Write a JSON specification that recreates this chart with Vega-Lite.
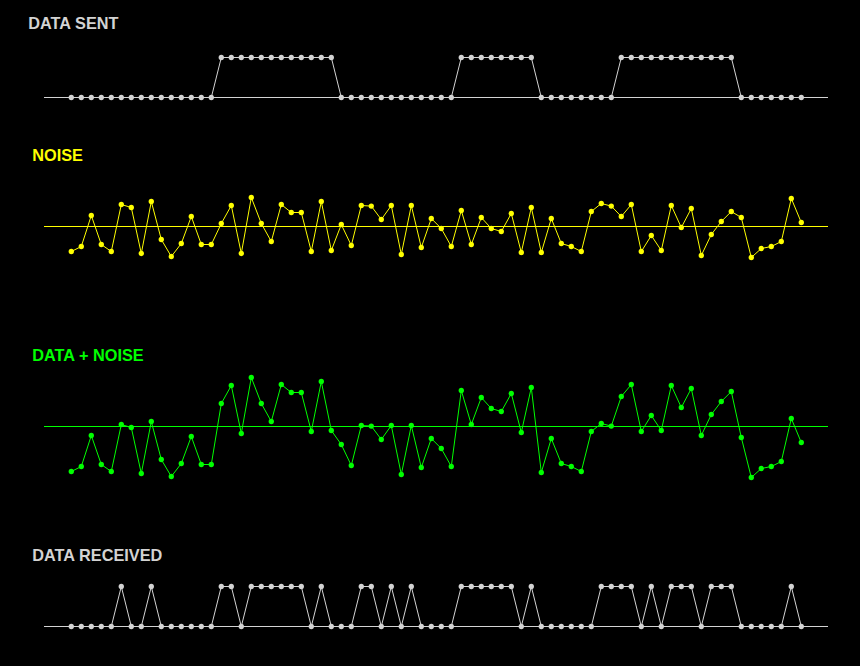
{
  "$schema": "https://vega.github.io/schema/vega-lite/v6.json",
  "width": 784,
  "height": 666,
  "autosize": "none",
  "padding": {"left": 44, "right": 32, "top": 0, "bottom": 0},
  "background": "black",
  "config": {"view": {"stroke": null}},
  "data": {"values": [
    {"i":0,"sent":0,"noise":-1.25,"dn":-2.25,"rec":0},
    {"i":1,"sent":0,"noise":-1.0,"dn":-2.0,"rec":0},
    {"i":2,"sent":0,"noise":0.55,"dn":-0.45,"rec":0},
    {"i":3,"sent":0,"noise":-0.9,"dn":-1.9,"rec":0},
    {"i":4,"sent":0,"noise":-1.25,"dn":-2.25,"rec":0},
    {"i":5,"sent":0,"noise":1.1,"dn":0.1,"rec":1},
    {"i":6,"sent":0,"noise":0.95,"dn":-0.05,"rec":0},
    {"i":7,"sent":0,"noise":-1.35,"dn":-2.35,"rec":0},
    {"i":8,"sent":0,"noise":1.25,"dn":0.25,"rec":1},
    {"i":9,"sent":0,"noise":-0.65,"dn":-1.65,"rec":0},
    {"i":10,"sent":0,"noise":-1.5,"dn":-2.5,"rec":0},
    {"i":11,"sent":0,"noise":-0.85,"dn":-1.85,"rec":0},
    {"i":12,"sent":0,"noise":0.5,"dn":-0.5,"rec":0},
    {"i":13,"sent":0,"noise":-0.9,"dn":-1.9,"rec":0},
    {"i":14,"sent":0,"noise":-0.9,"dn":-1.9,"rec":0},
    {"i":15,"sent":1,"noise":0.15,"dn":1.15,"rec":1},
    {"i":16,"sent":1,"noise":1.05,"dn":2.05,"rec":1},
    {"i":17,"sent":1,"noise":-1.35,"dn":-0.35,"rec":0},
    {"i":18,"sent":1,"noise":1.45,"dn":2.45,"rec":1},
    {"i":19,"sent":1,"noise":0.15,"dn":1.15,"rec":1},
    {"i":20,"sent":1,"noise":-0.75,"dn":0.25,"rec":1},
    {"i":21,"sent":1,"noise":1.1,"dn":2.1,"rec":1},
    {"i":22,"sent":1,"noise":0.7,"dn":1.7,"rec":1},
    {"i":23,"sent":1,"noise":0.7,"dn":1.7,"rec":1},
    {"i":24,"sent":1,"noise":-1.25,"dn":-0.25,"rec":0},
    {"i":25,"sent":1,"noise":1.25,"dn":2.25,"rec":1},
    {"i":26,"sent":1,"noise":-1.2,"dn":-0.2,"rec":0},
    {"i":27,"sent":0,"noise":0.1,"dn":-0.9,"rec":0},
    {"i":28,"sent":0,"noise":-0.95,"dn":-1.95,"rec":0},
    {"i":29,"sent":0,"noise":1.05,"dn":0.05,"rec":1},
    {"i":30,"sent":0,"noise":1.02,"dn":0.02,"rec":1},
    {"i":31,"sent":0,"noise":0.35,"dn":-0.65,"rec":0},
    {"i":32,"sent":0,"noise":1.05,"dn":0.05,"rec":1},
    {"i":33,"sent":0,"noise":-1.4,"dn":-2.4,"rec":0},
    {"i":34,"sent":0,"noise":1.05,"dn":0.05,"rec":1},
    {"i":35,"sent":0,"noise":-1.05,"dn":-2.05,"rec":0},
    {"i":36,"sent":0,"noise":0.4,"dn":-0.6,"rec":0},
    {"i":37,"sent":0,"noise":-0.1,"dn":-1.1,"rec":0},
    {"i":38,"sent":0,"noise":-1.0,"dn":-2.0,"rec":0},
    {"i":39,"sent":1,"noise":0.8,"dn":1.8,"rec":1},
    {"i":40,"sent":1,"noise":-0.9,"dn":0.1,"rec":1},
    {"i":41,"sent":1,"noise":0.45,"dn":1.45,"rec":1},
    {"i":42,"sent":1,"noise":-0.1,"dn":0.9,"rec":1},
    {"i":43,"sent":1,"noise":-0.25,"dn":0.75,"rec":1},
    {"i":44,"sent":1,"noise":0.65,"dn":1.65,"rec":1},
    {"i":45,"sent":1,"noise":-1.3,"dn":-0.3,"rec":0},
    {"i":46,"sent":1,"noise":0.95,"dn":1.95,"rec":1},
    {"i":47,"sent":0,"noise":-1.3,"dn":-2.3,"rec":0},
    {"i":48,"sent":0,"noise":0.4,"dn":-0.6,"rec":0},
    {"i":49,"sent":0,"noise":-0.85,"dn":-1.85,"rec":0},
    {"i":50,"sent":0,"noise":-1.0,"dn":-2.0,"rec":0},
    {"i":51,"sent":0,"noise":-1.25,"dn":-2.25,"rec":0},
    {"i":52,"sent":0,"noise":0.75,"dn":-0.25,"rec":0},
    {"i":53,"sent":0,"noise":1.15,"dn":0.15,"rec":1},
    {"i":54,"sent":0,"noise":1.02,"dn":0.02,"rec":1},
    {"i":55,"sent":1,"noise":0.5,"dn":1.5,"rec":1},
    {"i":56,"sent":1,"noise":1.1,"dn":2.1,"rec":1},
    {"i":57,"sent":1,"noise":-1.25,"dn":-0.25,"rec":0},
    {"i":58,"sent":1,"noise":-0.45,"dn":0.55,"rec":1},
    {"i":59,"sent":1,"noise":-1.2,"dn":-0.2,"rec":0},
    {"i":60,"sent":1,"noise":1.05,"dn":2.05,"rec":1},
    {"i":61,"sent":1,"noise":-0.05,"dn":0.95,"rec":1},
    {"i":62,"sent":1,"noise":0.9,"dn":1.9,"rec":1},
    {"i":63,"sent":1,"noise":-1.45,"dn":-0.45,"rec":0},
    {"i":64,"sent":1,"noise":-0.4,"dn":0.6,"rec":1},
    {"i":65,"sent":1,"noise":0.25,"dn":1.25,"rec":1},
    {"i":66,"sent":1,"noise":0.75,"dn":1.75,"rec":1},
    {"i":67,"sent":0,"noise":0.45,"dn":-0.55,"rec":0},
    {"i":68,"sent":0,"noise":-1.55,"dn":-2.55,"rec":0},
    {"i":69,"sent":0,"noise":-1.1,"dn":-2.1,"rec":0},
    {"i":70,"sent":0,"noise":-1.0,"dn":-2.0,"rec":0},
    {"i":71,"sent":0,"noise":-0.75,"dn":-1.75,"rec":0},
    {"i":72,"sent":0,"noise":1.4,"dn":0.4,"rec":1},
    {"i":73,"sent":0,"noise":0.2,"dn":-0.8,"rec":0}
  ]},
  "resolve": {"scale": {"y": "independent"}},
  "layer": [
    {
      "layer": [
        {"transform": [{"filter": "datum.i == 0"}], "mark": {"type": "rule", "color": "#d3d3d3", "strokeWidth": 1},
         "encoding": {"y": {"datum": 0, "type": "quantitative", "scale": {"domain": [-14.2125, 2.4375], "nice": false, "zero": false}, "axis": null}}},
        {"mark": {"type": "line", "color": "#d3d3d3", "strokeWidth": 1},
         "encoding": {"x": {"field": "i", "type": "quantitative", "scale": {"domain": [-2.73, 75.67], "nice": false, "zero": false}, "axis": null},
                      "y": {"field": "sent", "type": "quantitative", "scale": {"domain": [-14.2125, 2.4375], "nice": false, "zero": false}, "axis": null}}},
        {"mark": {"type": "circle", "color": "#d3d3d3", "size": 28, "opacity": 1},
         "encoding": {"x": {"field": "i", "type": "quantitative", "scale": {"domain": [-2.73, 75.67], "nice": false, "zero": false}, "axis": null},
                      "y": {"field": "sent", "type": "quantitative", "scale": {"domain": [-14.2125, 2.4375], "nice": false, "zero": false}, "axis": null}}},
        {"transform": [{"filter": "datum.i == 0"}], "mark": {"type": "text", "color": "#d3d3d3", "font": "Liberation Sans", "fontSize": 16.3, "fontWeight": "bold", "align": "left", "baseline": "alphabetic"},
         "encoding": {"x": {"datum": -4.3, "type": "quantitative", "scale": {"domain": [-2.73, 75.67], "nice": false, "zero": false}, "axis": null},
                      "y": {"datum": 1.705, "type": "quantitative", "scale": {"domain": [-14.2125, 2.4375], "nice": false, "zero": false}, "axis": null},
                      "text": {"value": "DATA SENT"}}}
      ]
    },
    {
      "layer": [
        {"transform": [{"filter": "datum.i == 0"}], "mark": {"type": "rule", "color": "#ffff00", "strokeWidth": 1},
         "encoding": {"y": {"datum": 0, "type": "quantitative", "scale": {"domain": [-21.975, 11.325], "nice": false, "zero": false}, "axis": null}}},
        {"mark": {"type": "line", "color": "#ffff00", "strokeWidth": 1},
         "encoding": {"x": {"field": "i", "type": "quantitative", "scale": {"domain": [-2.73, 75.67], "nice": false, "zero": false}, "axis": null},
                      "y": {"field": "noise", "type": "quantitative", "scale": {"domain": [-21.975, 11.325], "nice": false, "zero": false}, "axis": null}}},
        {"mark": {"type": "circle", "color": "#ffff00", "size": 28, "opacity": 1},
         "encoding": {"x": {"field": "i", "type": "quantitative", "scale": {"domain": [-2.73, 75.67], "nice": false, "zero": false}, "axis": null},
                      "y": {"field": "noise", "type": "quantitative", "scale": {"domain": [-21.975, 11.325], "nice": false, "zero": false}, "axis": null}}},
        {"transform": [{"filter": "datum.i == 0"}], "mark": {"type": "text", "color": "#ffff00", "font": "Liberation Sans", "fontSize": 16.3, "fontWeight": "bold", "align": "left", "baseline": "alphabetic"},
         "encoding": {"x": {"datum": -3.9, "type": "quantitative", "scale": {"domain": [-2.73, 75.67], "nice": false, "zero": false}, "axis": null},
                      "y": {"datum": 3.275, "type": "quantitative", "scale": {"domain": [-21.975, 11.325], "nice": false, "zero": false}, "axis": null},
                      "text": {"value": "NOISE"}}}
      ]
    },
    {
      "layer": [
        {"transform": [{"filter": "datum.i == 0"}], "mark": {"type": "rule", "color": "#00ff00", "strokeWidth": 1},
         "encoding": {"y": {"datum": 0, "type": "quantitative", "scale": {"domain": [-11.975, 21.325], "nice": false, "zero": false}, "axis": null}}},
        {"mark": {"type": "line", "color": "#00ff00", "strokeWidth": 1},
         "encoding": {"x": {"field": "i", "type": "quantitative", "scale": {"domain": [-2.73, 75.67], "nice": false, "zero": false}, "axis": null},
                      "y": {"field": "dn", "type": "quantitative", "scale": {"domain": [-11.975, 21.325], "nice": false, "zero": false}, "axis": null}}},
        {"mark": {"type": "circle", "color": "#00ff00", "size": 28, "opacity": 1},
         "encoding": {"x": {"field": "i", "type": "quantitative", "scale": {"domain": [-2.73, 75.67], "nice": false, "zero": false}, "axis": null},
                      "y": {"field": "dn", "type": "quantitative", "scale": {"domain": [-11.975, 21.325], "nice": false, "zero": false}, "axis": null}}},
        {"transform": [{"filter": "datum.i == 0"}], "mark": {"type": "text", "color": "#00ff00", "font": "Liberation Sans", "fontSize": 16.3, "fontWeight": "bold", "align": "left", "baseline": "alphabetic"},
         "encoding": {"x": {"datum": -3.9, "type": "quantitative", "scale": {"domain": [-2.73, 75.67], "nice": false, "zero": false}, "axis": null},
                      "y": {"datum": 3.275, "type": "quantitative", "scale": {"domain": [-11.975, 21.325], "nice": false, "zero": false}, "axis": null},
                      "text": {"value": "DATA + NOISE"}}}
      ]
    },
    {
      "layer": [
        {"transform": [{"filter": "datum.i == 0"}], "mark": {"type": "rule", "color": "#d3d3d3", "strokeWidth": 1},
         "encoding": {"y": {"datum": 0, "type": "quantitative", "scale": {"domain": [-0.9875, 15.6625], "nice": false, "zero": false}, "axis": null}}},
        {"mark": {"type": "line", "color": "#d3d3d3", "strokeWidth": 1},
         "encoding": {"x": {"field": "i", "type": "quantitative", "scale": {"domain": [-2.73, 75.67], "nice": false, "zero": false}, "axis": null},
                      "y": {"field": "rec", "type": "quantitative", "scale": {"domain": [-0.9875, 15.6625], "nice": false, "zero": false}, "axis": null}}},
        {"mark": {"type": "circle", "color": "#d3d3d3", "size": 28, "opacity": 1},
         "encoding": {"x": {"field": "i", "type": "quantitative", "scale": {"domain": [-2.73, 75.67], "nice": false, "zero": false}, "axis": null},
                      "y": {"field": "rec", "type": "quantitative", "scale": {"domain": [-0.9875, 15.6625], "nice": false, "zero": false}, "axis": null}}},
        {"transform": [{"filter": "datum.i == 0"}], "mark": {"type": "text", "color": "#d3d3d3", "font": "Liberation Sans", "fontSize": 16.3, "fontWeight": "bold", "align": "left", "baseline": "alphabetic"},
         "encoding": {"x": {"datum": -3.9, "type": "quantitative", "scale": {"domain": [-2.73, 75.67], "nice": false, "zero": false}, "axis": null},
                      "y": {"datum": 1.6375, "type": "quantitative", "scale": {"domain": [-0.9875, 15.6625], "nice": false, "zero": false}, "axis": null},
                      "text": {"value": "DATA RECEIVED"}}}
      ]
    }
  ]
}
